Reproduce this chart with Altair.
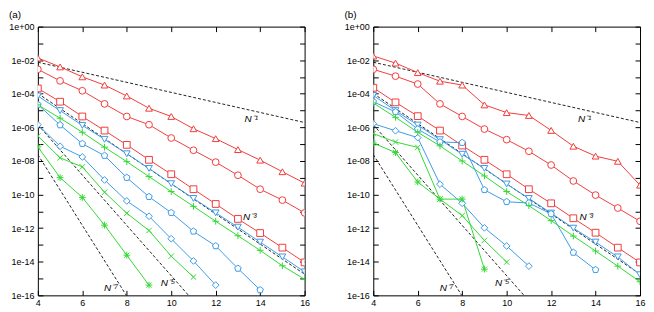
import altair as alt
import pandas as pd

# ---------------- data (log10 of the plotted values) ----------------
N_all = list(range(4, 17))

# panel (a)
a_tri   = [-1.87, -2.40, -2.99, -3.48, -4.13, -4.86, -5.35, -6.08, -6.67, -7.32, -7.95, -8.64, -9.32]
a_circ  = [-2.54, -3.23, -3.82, -4.60, -5.35, -5.84, -6.63, -7.36, -8.07, -8.85, -9.68, -10.33, -11.09]
a_sq    = [-3.68, -4.47, -5.35, -6.19, -7.04, -7.93, -8.79, -9.68, -10.56, -11.45, -12.29, -13.16, -14.04]
a_itri  = [-4.13, -5.00, -5.88, -6.71, -7.57, -8.44, -9.35, -10.23, -11.09, -11.94, -12.83, -13.71, -14.60]
a_pent  = [-4.64, -5.86, -6.97, -7.68, -8.99, -10.13, -11.08, -12.19, -13.06, -14.40, -15.68]
a_diam  = [-5.84, -7.12, -7.76, -9.13, -10.38, -11.29, -12.63, -13.95, -15.39]
a_plus  = [-4.66, -5.45, -6.29, -7.18, -8.04, -8.93, -9.82, -10.70, -11.59, -12.45, -13.32, -14.24, -15.04]
a_cross = [-6.51, -7.81, -8.35, -9.86, -11.11, -12.14, -13.67, -14.91]
a_ast   = [-7.16, -8.99, -10.17, -11.82, -13.61, -15.39]

# panel (b)
b_tri   = [-1.75, -2.17, -2.74, -3.25, -3.48, -4.66, -5.12, -5.29, -6.18, -7.12, -7.71, -8.02, -9.44]
b_circ  = [-2.54, -2.95, -3.42, -4.60, -5.35, -6.10, -6.73, -7.42, -8.24, -9.19, -10.03, -10.80, -11.59]
b_sq    = [-3.64, -4.51, -5.33, -6.19, -7.08, -7.93, -8.79, -9.68, -10.52, -11.41, -12.27, -13.16, -14.04]
b_itri  = [-4.10, -5.00, -5.86, -6.73, -7.60, -8.44, -9.37, -10.23, -11.10, -12.00, -12.83, -13.71, -14.77]
b_pent  = [-4.47, -5.08, -6.10, -6.87, -6.91, -9.72, -10.43, -10.50, -11.15, -13.45, -14.48]
b_diam  = [-5.78, -6.20, -6.61, -9.38, -10.52, -11.98, -13.06, -14.26]
b_plus  = [-4.55, -5.40, -6.29, -7.10, -8.00, -8.89, -9.82, -10.66, -11.55, -12.47, -13.36, -14.26, -15.19]
b_cross = [-6.37, -6.87, -7.19, -10.27, -11.25, -12.73, -14.02]
b_ast   = [-6.93, -7.50, -9.25, -10.27, -10.27, -14.44]

# dashed reference lines: end points (N, log10 value)
ref_names = ["N1", "N3", "N5", "N7"]
ref_x0 = [4, 4, 4, 4]
ref_x1 = [16, 16, 10.78, 7.98]
ref_y0 = [-2.12, -3.98, -5.84, -7.62]
ref_y1 = [-5.71, -14.74, -16.0, -16.0]

label_text = ["N\u207b\u00b9", "N\u207b\u00b3", "N\u207b\u2075", "N\u207b\u2077"]
a_label_x = [13.6, 13.53, 9.85, 7.29]
b_label_x = [13.51, 13.58, 9.8, 7.3]
label_y = [-5.49, -11.35, -15.28, -15.58]

x_ticks = [4, 6, 8, 10, 12, 14, 16]
y_ticks = [10.0 ** (-k) for k in range(0, 17)]

RED, BLUE, GREEN = "#f23c3c", "#3d9be9", "#33d933"
series_names = ["tri", "circ", "sq", "itri", "pent", "diam", "plus", "cross", "ast"]
series_colors = [RED, RED, RED, BLUE, BLUE, BLUE, GREEN, GREEN, GREEN]
PENT = "M0,-1L0.951,-0.309L0.588,0.809L-0.588,0.809L-0.951,-0.309Z"
PLUS = "M-1,0L1,0M0,-1L0,1"
CROSS = "M-0.8,-0.8L0.8,0.8M-0.8,0.8L0.8,-0.8"
AST = "M-1,0L1,0M0,-1L0,1M-0.75,-0.75L0.75,0.75M-0.75,0.75L0.75,-0.75"
series_shapes = ["triangle-up", "circle", "square", "triangle-down", PENT, "diamond", PLUS, CROSS, AST]

# ---------------- build tables ----------------
def series_table(lists):
    rows = []
    for name, vals in zip(series_names, lists):
        for n, v in zip(N_all, vals):
            rows.append({"N": n, "err": 10.0 ** v, "series": name})
    return pd.DataFrame(rows)

def ref_table():
    rows = []
    for nm, x0, x1, y0, y1 in zip(ref_names, ref_x0, ref_x1, ref_y0, ref_y1):
        rows.append({"N": x0, "err": 10.0 ** y0, "line": nm})
        rows.append({"N": x1, "err": 10.0 ** y1, "line": nm})
    return pd.DataFrame(rows)

def label_table(xs):
    return pd.DataFrame({"N": xs, "err": [10.0 ** v for v in label_y], "txt": label_text})

W, H = 268, 270
xscale = alt.Scale(domain=[4, 16], nice=False, zero=False)
yscale = alt.Scale(type="log", domain=[1e-16, 1], nice=False)

e = "round(log(datum.value)/LN10)"
label_expr = (f"({e} % 2 != 0) ? '' : '1e' + ({e} < 0 ? '-' : '+') + "
              f"(abs({e}) < 10 ? '0' : '') + abs({e})")

ax_bottom = alt.Axis(values=x_ticks, orient="bottom", offset=-5, tickSize=5, domain=False,
                     grid=False, labelPadding=3, title=None, format="d", labelFlush=False)
ax_top = alt.Axis(values=x_ticks, orient="top", offset=-5, tickSize=5, domain=False,
                  grid=False, labels=False, title=None)
ax_left = alt.Axis(values=y_ticks, orient="left", offset=-5, tickSize=5, domain=False,
                   grid=False, labelPadding=4, title=None, labelExpr=label_expr, labelFlush=False)
ax_right = alt.Axis(values=y_ticks, orient="right", offset=-5, tickSize=5, domain=False,
                    grid=False, labels=False, title=None)


def panel(lists, label_x, title):
    df = series_table(lists)
    cscale = alt.Scale(domain=series_names, range=series_colors)
    sscale = alt.Scale(domain=series_names, range=series_shapes)

    refs = alt.Chart(ref_table()).mark_line(
        color="#222222", strokeWidth=1, strokeDash=[3, 2], clip=True
    ).encode(
        x=alt.X("N:Q", scale=xscale, axis=ax_top),
        y=alt.Y("err:Q", scale=yscale, axis=ax_right),
        detail="line:N",
    )
    lines = alt.Chart(df).mark_line(strokeWidth=1, clip=True).encode(
        x=alt.X("N:Q", scale=xscale, axis=ax_bottom),
        y=alt.Y("err:Q", scale=yscale, axis=ax_left),
        color=alt.Color("series:N", scale=cscale, legend=None),
        detail="series:N",
        order="N:Q",
    )
    pts = alt.Chart(df).mark_point(
        filled=False, fill="white", fillOpacity=1, strokeWidth=1, opacity=1, size=46, clip=True
    ).encode(
        x=alt.X("N:Q", scale=xscale, axis=None),
        y=alt.Y("err:Q", scale=yscale, axis=None),
        color=alt.Color("series:N", scale=cscale, legend=None),
        shape=alt.Shape("series:N", scale=sscale, legend=None),
    )
    labels = alt.Chart(label_table(label_x)).mark_text(
        fontStyle="italic", fontSize=10, font="Liberation Sans", color="black",
        align="center", baseline="middle"
    ).encode(
        x=alt.X("N:Q", scale=xscale, axis=None),
        y=alt.Y("err:Q", scale=yscale, axis=None),
        text="txt:N",
    )
    return alt.layer(refs, lines, pts, labels).resolve_axis(
        x="independent", y="independent"
    ).properties(
        width=W, height=H,
        title=alt.TitleParams(title, anchor="start", frame="group", dx=-29, offset=3,
                              fontSize=10, fontWeight="normal", font="Liberation Sans",
                              color="black"),
    )


chart = alt.hconcat(
    panel([a_tri, a_circ, a_sq, a_itri, a_pent, a_diam, a_plus, a_cross, a_ast], a_label_x, "(a)"),
    panel([b_tri, b_circ, b_sq, b_itri, b_pent, b_diam, b_plus, b_cross, b_ast], b_label_x, "(b)"),
    spacing=33,
).properties(padding=0, background="white").configure_view(
    stroke="black", strokeWidth=1
).configure_axis(
    labelColor="black", tickColor="black", labelFont="Liberation Sans", labelFontSize=9
)

chart.save("out.html", embed_options={"renderer": "svg", "actions": False})
